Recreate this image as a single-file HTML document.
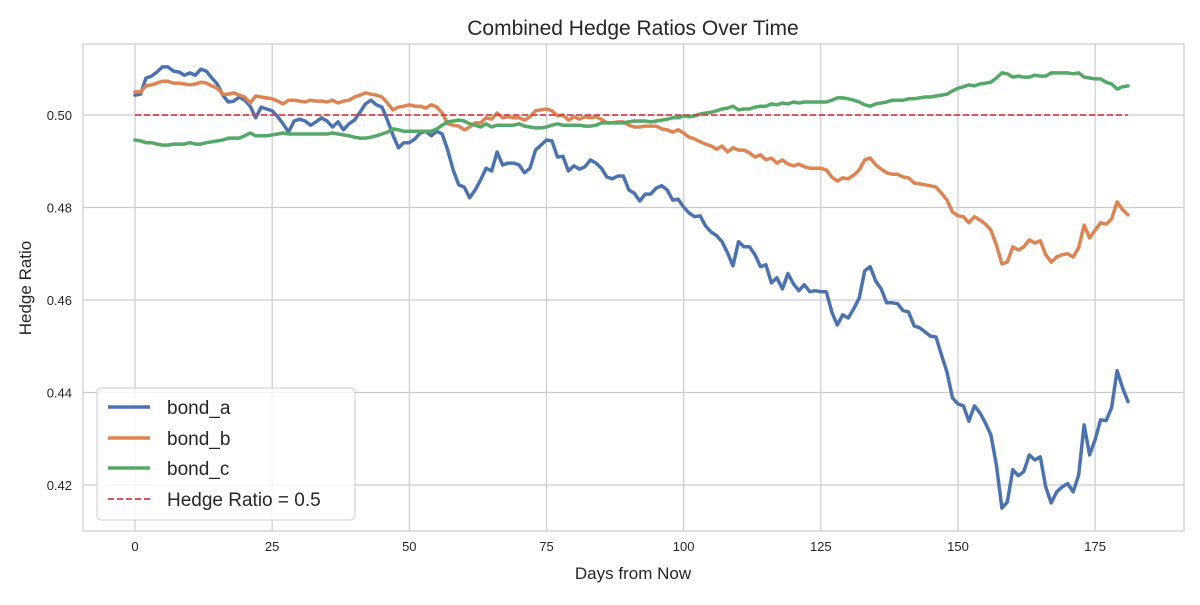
<!DOCTYPE html>
<html><head><meta charset="utf-8"><style>
body{margin:0;background:#fff;font-family:"Liberation Sans",sans-serif}
svg text{font-family:"Liberation Sans",sans-serif;fill:#262626}
</style></head><body>
<svg id="chart" width="1200" height="600" xmlns="http://www.w3.org/2000/svg">
<rect x="0" y="0" width="1200" height="600" fill="#fff"/>
<g id="grid"></g>
<g id="ticks"></g>
<g id="series"></g>
<rect x="83" y="44" width="1101" height="487" fill="none" stroke="#cccccc" stroke-width="1.2"/>
<text x="633" y="35" text-anchor="middle" font-size="21">Combined Hedge Ratios Over Time</text>
<text x="633" y="579" text-anchor="middle" font-size="17">Days from Now</text>
<text x="31" y="288" text-anchor="middle" font-size="17" transform="rotate(-90 31 288)">Hedge Ratio</text>
<g>
<rect x="97" y="388" width="258" height="132" rx="4" fill="#fff" fill-opacity="0.8" stroke="#cccccc"/>
<g><line x1="108" y1="407" x2="150" y2="407" stroke="#4c72b0" stroke-width="3.5"/><text x="167" y="414" font-size="19">bond_a</text></g>
<g><line x1="108" y1="438" x2="150" y2="438" stroke="#dd8452" stroke-width="3.5"/><text x="167" y="445" font-size="19">bond_b</text></g>
<g><line x1="108" y1="468" x2="150" y2="468" stroke="#55a868" stroke-width="3.5"/><text x="167" y="475" font-size="19">bond_c</text></g>
<g><line x1="108" y1="499" x2="150" y2="499" stroke="#d0424a" stroke-width="1.8" stroke-dasharray="6,3"/><text x="167" y="506" font-size="19">Hedge Ratio = 0.5</text></g>
</g>
</svg>
<script>
const xTicks=[0,25,50,75,100,125,150,175];
const yTicks=[0.42,0.44,0.46,0.48,0.50];
const hedgeTarget=0.5;
const bondA=[.5043,.5045,.5080,.5084,.5093,.5104,.5104,.5095,.5093,.5086,.5091,.5086,.5099,.5095,.5080,.5067,.5043,.5028,.5030,.5039,.5032,.5019,.4994,.5017,.5013,.5009,.4996,.4981,.4963,.4987,.4991,.4987,.4978,.4985,.4994,.4987,.4974,.4985,.4968,.4981,.4989,.5006,.5024,.5032,.5022,.5017,.4989,.4957,.4929,.4940,.4940,.4948,.4961,.4965,.4955,.4965,.4959,.4924,.4881,.4849,.4844,.4821,.4838,.4860,.4885,.4879,.4920,.4892,.4896,.4896,.4892,.4875,.4885,.4924,.4935,.4946,.4944,.4909,.4911,.4879,.4890,.4883,.4888,.4903,.4896,.4885,.4866,.4862,.4868,.4868,.4838,.4831,.4814,.4829,.4829,.4842,.4847,.4838,.4816,.4818,.4801,.4788,.4780,.4782,.4760,.4747,.4739,.4726,.4702,.4674,.4726,.4715,.4715,.4698,.4672,.4676,.4637,.4648,.4624,.4657,.4635,.4620,.4633,.4618,.4620,.4618,.4618,.4574,.4546,.4568,.4561,.4581,.4604,.4663,.4672,.4641,.4624,.4594,.4594,.4592,.4577,.4574,.4544,.4540,.4531,.4522,.4520,.4481,.4444,.4388,.4375,.4371,.4338,.4371,.4356,.4334,.4308,.4243,.4150,.4163,.4233,.4220,.4229,.4265,.4254,.4261,.4196,.4161,.4185,.4196,.4203,.4185,.4222,.4330,.4265,.4298,.4341,.4339,.4367,.4447,.4410,.4380];
const bondB=[.5050,.5050,.5063,.5065,.5069,.5073,.5073,.5069,.5069,.5067,.5065,.5067,.5071,.5069,.5063,.5058,.5045,.5045,.5048,.5043,.5039,.5026,.5041,.5039,.5037,.5035,.5030,.5024,.5032,.5032,.5030,.5028,.5032,.5030,.5030,.5028,.5032,.5026,.5030,.5032,.5039,.5043,.5048,.5045,.5043,.5039,.5026,.5011,.5017,.5019,.5022,.5019,.5019,.5015,.5022,.5017,.5004,.4981,.4978,.4976,.4968,.4974,.4983,.4983,.4994,.4991,.5004,.4994,.4996,.4994,.4994,.4989,.4996,.5009,.5011,.5013,.5009,.4998,.5000,.4989,.4996,.4991,.4996,.4994,.4996,.4991,.4983,.4983,.4985,.4985,.4978,.4974,.4974,.4976,.4976,.4976,.4970,.4968,.4963,.4968,.4961,.4952,.4948,.4942,.4937,.4933,.4926,.4933,.4920,.4929,.4924,.4924,.4918,.4909,.4914,.4903,.4907,.4896,.4903,.4894,.4890,.4894,.4888,.4885,.4885,.4885,.4881,.4866,.4857,.4864,.4862,.4870,.4881,.4903,.4907,.4892,.4883,.4875,.4872,.4872,.4866,.4864,.4853,.4851,.4849,.4847,.4844,.4831,.4816,.4790,.4782,.4780,.4767,.4780,.4773,.4764,.4751,.4719,.4678,.4682,.4715,.4708,.4715,.4730,.4723,.4728,.4698,.4682,.4693,.4698,.4700,.4693,.4713,.4762,.4734,.4751,.4767,.4764,.4775,.4812,.4795,.4784];
const bondC=[.4946,.4944,.4940,.4940,.4937,.4935,.4935,.4937,.4937,.4937,.4940,.4937,.4937,.4940,.4942,.4944,.4946,.4950,.4950,.4950,.4955,.4961,.4955,.4955,.4955,.4957,.4959,.4961,.4959,.4959,.4959,.4959,.4959,.4959,.4959,.4959,.4961,.4959,.4957,.4955,.4952,.4950,.4950,.4952,.4955,.4959,.4963,.4970,.4968,.4965,.4965,.4965,.4965,.4965,.4965,.4970,.4978,.4985,.4987,.4989,.4987,.4981,.4978,.4974,.4981,.4974,.4978,.4978,.4978,.4978,.4981,.4976,.4974,.4972,.4972,.4974,.4978,.4981,.4978,.4978,.4978,.4978,.4976,.4976,.4978,.4983,.4983,.4983,.4983,.4983,.4985,.4987,.4987,.4987,.4985,.4987,.4989,.4991,.4994,.4994,.4998,.4996,.4998,.5002,.5004,.5006,.5009,.5013,.5015,.5019,.5011,.5013,.5013,.5017,.5019,.5019,.5024,.5022,.5026,.5024,.5028,.5026,.5028,.5028,.5028,.5028,.5028,.5032,.5037,.5037,.5035,.5032,.5028,.5022,.5019,.5024,.5026,.5028,.5032,.5032,.5032,.5035,.5035,.5037,.5039,.5039,.5041,.5043,.5045,.5052,.5058,.5061,.5065,.5063,.5067,.5069,.5071,.5080,.5091,.5089,.5082,.5084,.5082,.5082,.5086,.5084,.5084,.5091,.5091,.5091,.5091,.5089,.5091,.5082,.5080,.5078,.5078,.5071,.5067,.5056,.5061,.5063];
const NS="http://www.w3.org/2000/svg";
const L=83,R=1184,T=44,B=531;
const xMin=-9.48,xMax=191.2,yMin=0.41005,yMax=0.51535;
function sx(d){return L+(d-xMin)/(xMax-xMin)*(R-L);}
function sy(v){return B-(v-yMin)/(yMax-yMin)*(B-T);}
function mk(tag,attrs,parent){const e=document.createElementNS(NS,tag);for(const k in attrs)e.setAttribute(k,attrs[k]);parent.appendChild(e);return e;}
const grid=document.getElementById('grid'),ticks=document.getElementById('ticks'),ser=document.getElementById('series');
xTicks.forEach(t=>{
  const g=mk('line',{x1:sx(t),x2:sx(t),y1:T,y2:B,stroke:'#cccccc','stroke-width':1.2},grid);
  
  
  const tx=mk('text',{x:sx(t),y:B+20,'text-anchor':'middle','font-size':13},ticks);
  tx.textContent=t;
  
  
});
yTicks.forEach(t=>{
  const g=mk('line',{x1:L,x2:R,y1:sy(t),y2:sy(t),stroke:'#cccccc','stroke-width':1.2},grid);
  
  
  const tx=mk('text',{x:L-11,y:sy(t)+5,'text-anchor':'end','font-size':13},ticks);
  tx.textContent=t.toFixed(2);
  
  
});
function line(arr,color,name){
  const d=arr.map((v,i)=>(i?'L':'M')+sx(i).toFixed(1)+','+sy(v).toFixed(1)).join('');
  const p=mk('path',{d:d,fill:'none',stroke:color,'stroke-width':3.5,'stroke-linejoin':'round','stroke-linecap':'round'},ser);
  
  
}
line(bondA,'#4c72b0','bond-a-line');
line(bondB,'#dd8452','bond-b-line');
line(bondC,'#55a868','bond-c-line');
const h=mk('line',{x1:sx(0),x2:sx(bondA.length-1),y1:sy(hedgeTarget),y2:sy(hedgeTarget),stroke:'#d0424a','stroke-width':1.8,'stroke-dasharray':'6,3'},ser);


</script>
</body></html>
